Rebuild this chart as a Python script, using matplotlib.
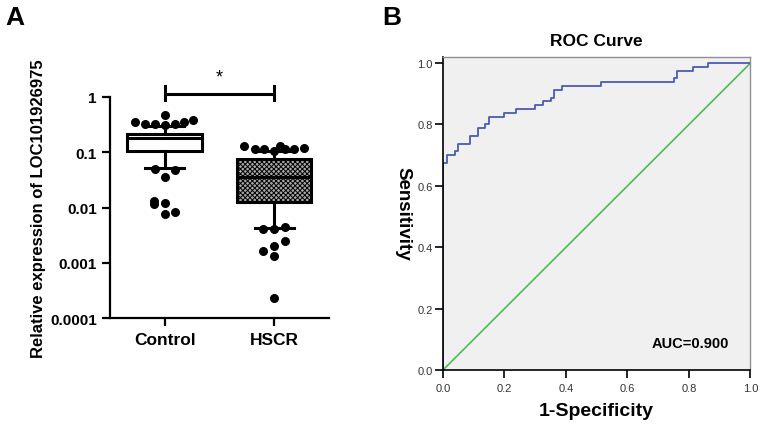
import matplotlib
matplotlib.use("Agg")
import matplotlib.pyplot as plt

plt.rcParams["font.family"] = ["Liberation Sans", "DejaVu Sans"]
plt.rcParams["hatch.linewidth"] = 0.7

# ---- panel A data (box plot, log scale) ----
groups = ["Control", "HSCR"]
q1 = [0.105, 0.0126]
median = [0.181, 0.036]
q3 = [0.214, 0.075]
whis_lo = [0.052, 0.0043]
whis_hi = [0.30, 0.105]

ctrl_vals = [0.35, 0.33, 0.32, 0.31, 0.33, 0.35, 0.39, 0.48,
             0.050, 0.048, 0.035,
             0.0133, 0.0116, 0.012, 0.0076, 0.0082]
ctrl_dx = [-0.27, -0.18, -0.09, 0.0, 0.09, 0.18, 0.26, 0.0,
           -0.09, 0.09, 0.0,
           -0.1, -0.1, 0.0, 0.0, 0.09]
hscr_vals = [0.128, 0.114, 0.114, 0.107, 0.131, 0.114, 0.114, 0.12,
             0.0041, 0.0040, 0.0044,
             0.0025, 0.0020, 0.0016, 0.0013, 0.00023]
hscr_dx = [-0.28, -0.18, -0.09, 0.0, 0.05, 0.1, 0.18, 0.27,
           -0.1, 0.0, 0.1,
           0.1, 0.0, -0.1, 0.0, 0.0]

yticks_a = [1e-4, 1e-3, 1e-2, 1e-1, 1]
ytick_labels_a = ["0.0001", "0.001", "0.01", "0.1", "1"]

# ---- panel B data (ROC curve) ----
fpr = [0, 0, 0.0125, 0.0375, 0.05, 0.0875, 0.1125, 0.1375, 0.15, 0.2, 0.2375,
       0.3, 0.325, 0.35, 0.3625, 0.3875, 0.5125, 0.75, 0.7625, 0.8125, 0.8625, 1.0]
tpr = [0, 0.675, 0.7, 0.7125, 0.7375, 0.7625, 0.7875, 0.8, 0.825, 0.8375, 0.85,
       0.8625, 0.875, 0.8875, 0.9125, 0.925, 0.9375, 0.95, 0.975, 0.9875, 1.0, 1.0]
auc = 0.900

fig = plt.figure(figsize=(7.61, 4.27), dpi=100)

# ===== Panel A =====
axA = fig.add_axes([0.1445, 0.2529, 0.2878, 0.5176])
axA.set_yscale("log")

stats = []
for i, g in enumerate(groups):
    stats.append(dict(label=g, q1=q1[i], med=median[i], q3=q3[i],
                      whislo=whis_lo[i], whishi=whis_hi[i], fliers=[]))

lw = 2.2
bp = axA.bxp(stats, positions=[1, 2], widths=0.68, capwidths=0.36,
             showfliers=False, patch_artist=True,
             boxprops=dict(facecolor="white", edgecolor="black", linewidth=lw),
             whiskerprops=dict(color="black", linewidth=lw),
             capprops=dict(color="black", linewidth=lw),
             medianprops=dict(color="black", linewidth=lw))
bp["boxes"][1].set_facecolor("#a8a8a8")
bp["boxes"][1].set_hatch("xxxxxxx")

axA.scatter([1 + d for d in ctrl_dx], ctrl_vals, s=30, color="black", zorder=5,
            clip_on=False)
axA.scatter([2 + d for d in hscr_dx], hscr_vals, s=30, color="black", zorder=5,
            clip_on=False)

# significance bracket
axA.plot([1, 2], [1.13, 1.13], color="black", lw=lw, clip_on=False)
axA.plot([1, 1], [0.9, 1.55], color="black", lw=lw, clip_on=False)
axA.plot([2, 2], [0.9, 1.55], color="black", lw=lw, clip_on=False)
axA.text(1.5, 2.35, "*", ha="center", va="center", fontsize=13)

axA.set_xlim(0.5, 2.5)
axA.set_ylim(1e-4, 1)
axA.set_yticks(yticks_a)
axA.set_yticklabels(ytick_labels_a)
axA.minorticks_off()
axA.set_xticks([1, 2])
axA.set_xticklabels(groups)
for s in ["top", "right"]:
    axA.spines[s].set_visible(False)
for s in ["left", "bottom"]:
    axA.spines[s].set_linewidth(1.6)
axA.tick_params(axis="both", length=6, width=1.6, labelsize=11)
for lab in axA.get_yticklabels() + axA.get_xticklabels():
    lab.set_fontweight("bold")
axA.tick_params(axis="x", labelsize=12.5, pad=4)
axA.set_ylabel("Relative expression of LOC101926975", fontsize=12,
               fontweight="bold", labelpad=3)

# ===== Panel B =====
axB = fig.add_axes([0.5821, 0.1311, 0.4041, 0.734])
axB.set_facecolor("#f0f0f0")
axB.plot([0, 1], [0, 1], color="#4dbb55", lw=1.2)
axB.plot(fpr, tpr, drawstyle="steps-post", color="#4a5cb0", lw=1.3)
axB.set_xlim(0, 1)
axB.set_ylim(0, 1.021)
ticks_b = [0.0, 0.2, 0.4, 0.6, 0.8, 1.0]
axB.set_xticks(ticks_b)
axB.set_yticks(ticks_b)
axB.set_xticklabels([f"{t:.1f}" for t in ticks_b])
axB.set_yticklabels([f"{t:.1f}" for t in ticks_b])
axB.tick_params(axis="both", length=6, width=1.2, labelsize=8,
                labelcolor="#333333")
axB.tick_params(axis="y", pad=1.5)
for s in ["left", "bottom"]:
    axB.spines[s].set_linewidth(1.2)
    axB.spines[s].set_color("black")
for s in ["top", "right"]:
    axB.spines[s].set_linewidth(1.0)
    axB.spines[s].set_color("#909090")
axB.set_title("ROC Curve", fontsize=12.5, fontweight="bold", pad=8)
axB.set_xlabel("1-Specificity", fontsize=14, fontweight="bold", labelpad=6)
axB.text(-0.13, 0.5, "Sensitivity", fontsize=13.5, fontweight="bold",
         rotation=-90, ha="center", va="center", transform=axB.transAxes)
axB.text(0.68, 0.088, f"AUC={auc:.3f}", fontsize=10.5, fontweight="bold",
         ha="left", va="center", transform=axB.transData)

# panel letters
fig.text(0.0066, 0.959, "A", fontsize=19, fontweight="bold", ha="left", va="center")
fig.text(0.502, 0.959, "B", fontsize=19, fontweight="bold", ha="left", va="center")

fig.savefig("out.png", dpi=100)
